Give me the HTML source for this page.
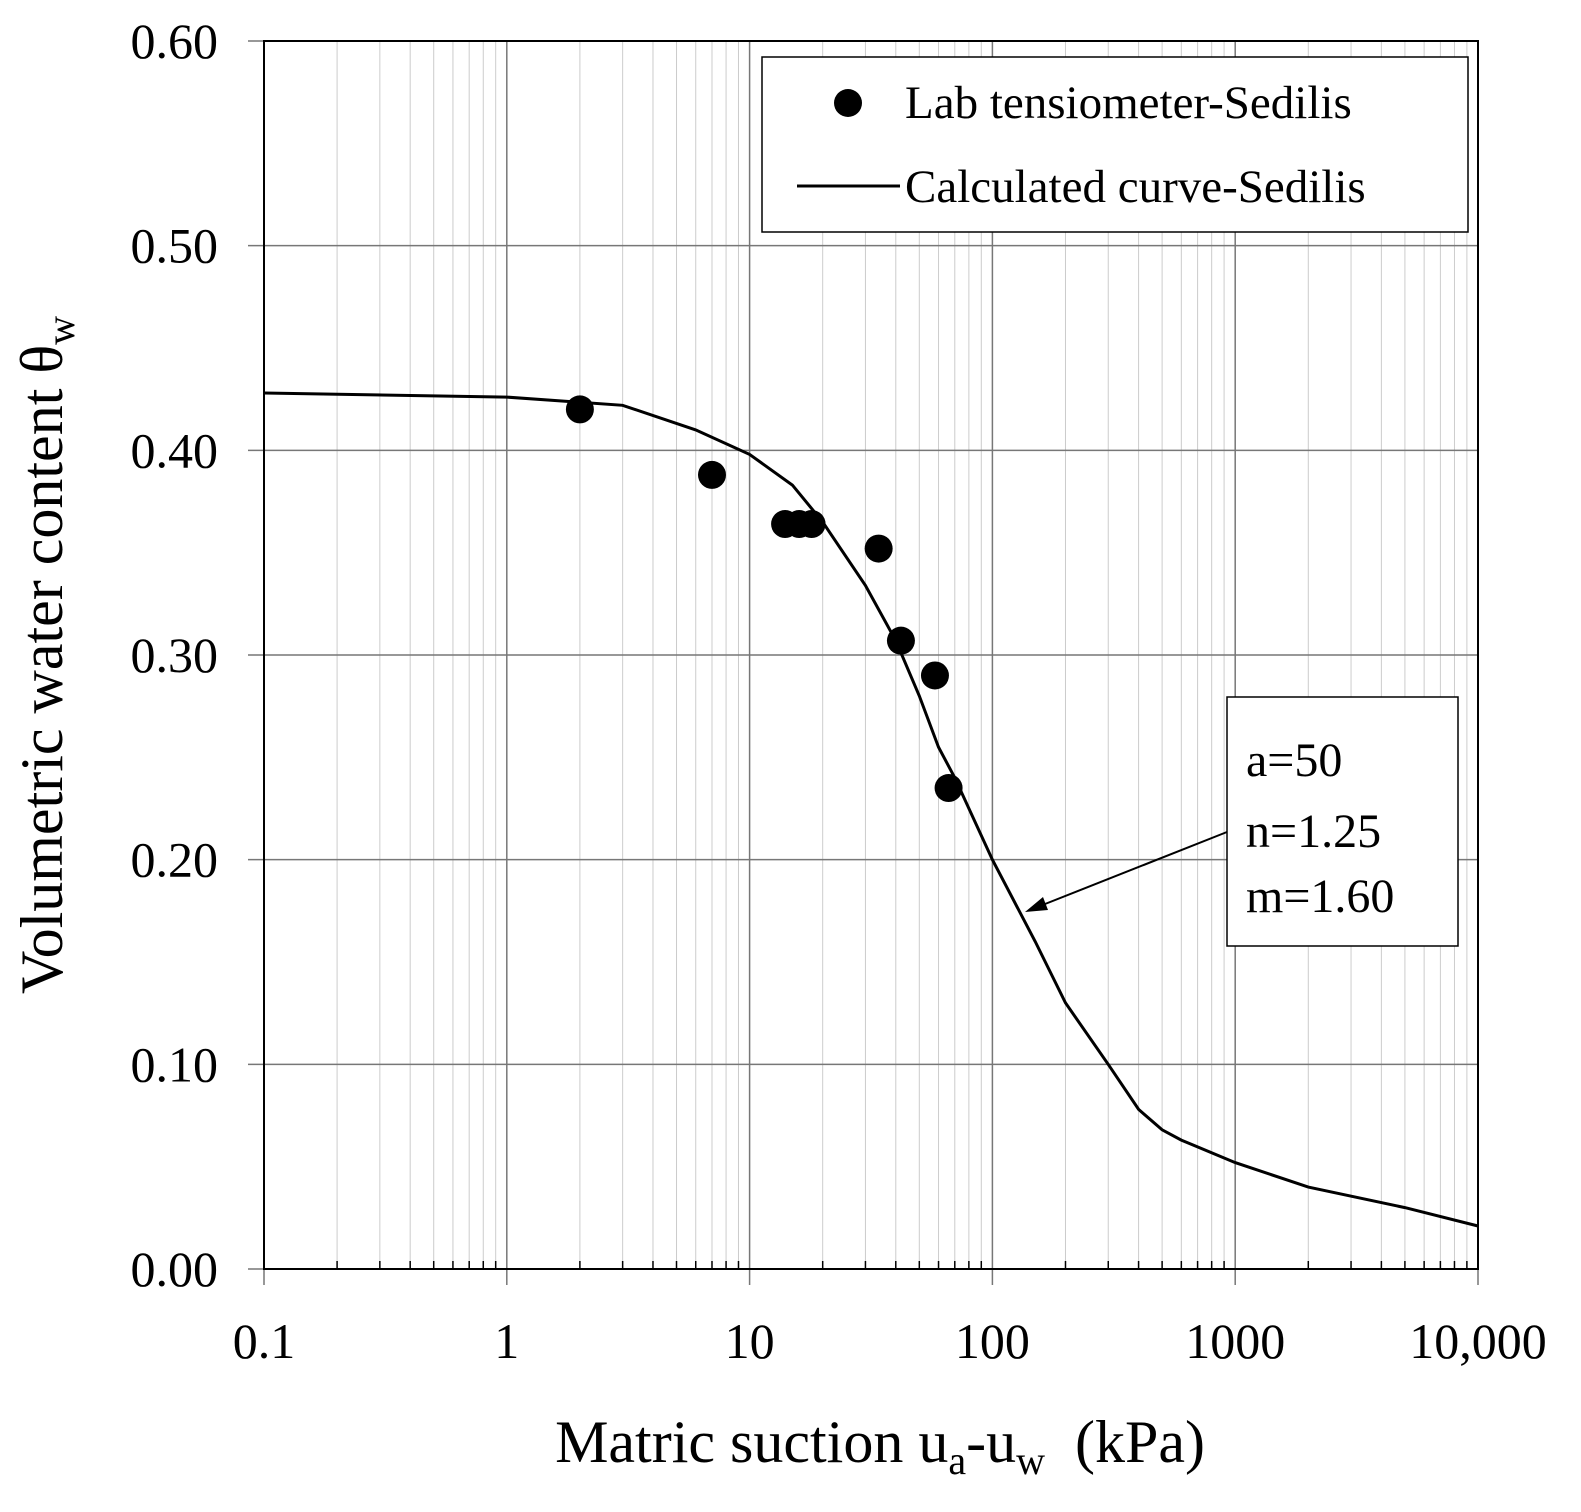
<!DOCTYPE html>
<html><head><meta charset="utf-8"><style>
html,body{margin:0;padding:0;background:#fff;}
svg text{font-family:"Liberation Serif",serif;fill:#000;}
</style></head><body>
<svg id="chart" width="1581" height="1507" viewBox="0 0 1581 1507" xmlns="http://www.w3.org/2000/svg">
<g id="grid"></g>
<rect x="264" y="41" width="1214" height="1228" fill="none" stroke="#000" stroke-width="2"/>
<g id="ticks"></g>
<path id="curve" fill="none" stroke="#000" stroke-width="3"/>
<g id="points"></g>
<text x="880" y="1462" font-size="60" text-anchor="middle">Matric suction u<tspan font-size="40" dy="12">a</tspan><tspan dy="-12">-u</tspan><tspan font-size="40" dy="12">w</tspan><tspan dy="-12" xml:space="preserve">  (kPa)</tspan></text>
<text transform="translate(62,655) rotate(-90)" font-size="60" text-anchor="middle">Volumetric water content θ<tspan font-size="40" dy="12">w</tspan></text>
<g>
<rect x="762" y="57" width="706" height="175" fill="#fff" stroke="#000" stroke-width="1.5"/>
<circle cx="848" cy="103" r="14" fill="#000"/>
<text x="905" y="118" font-size="47">Lab tensiometer-Sedilis</text>
<line x1="797" y1="186" x2="900" y2="186" stroke="#000" stroke-width="3"/>
<text x="905" y="202" font-size="47">Calculated curve-Sedilis</text>
</g>
<g>
<rect x="1227" y="697" width="231" height="249" fill="#fff" stroke="#000" stroke-width="1.5"/>
<text x="1246" y="776" font-size="48">a=50</text>
<text x="1246" y="847" font-size="48">n=1.25</text>
<text x="1246" y="912" font-size="48">m=1.60</text>
<line x1="1227" y1="832" x2="1040" y2="906" stroke="#000" stroke-width="2"/>
<polygon points="1025,912 1043,897 1048,910" fill="#000"/>
</g>
</svg>
<script>
const xTicks=[0.1,1,10,100,1000,10000];
const xTickLabels=["0.1","1","10","100","1000","10,000"];
const yTicks=[0,0.1,0.2,0.3,0.4,0.5,0.6];
const yTickLabels=["0.00","0.10","0.20","0.30","0.40","0.50","0.60"];
const labSuction=[2,7,14,16,18,34,42,58,66];
const labTheta=[0.420,0.388,0.364,0.364,0.364,0.352,0.307,0.290,0.235];
const curveSuction=[0.1,1,3,6,10,15,20,30,40,50,60,70,100,150,200,300,400,500,600,1000,2000,5000,10000];
const curveTheta=[0.428,0.426,0.422,0.410,0.398,0.383,0.365,0.334,0.307,0.280,0.255,0.240,0.200,0.160,0.130,0.100,0.078,0.068,0.063,0.052,0.040,0.030,0.021];
const NS="http://www.w3.org/2000/svg";
const X=v=>264+(Math.log10(v)+1)*242.8;
const Y=v=>1269-v/0.6*1228;
function mk(t,a,p){const e=document.createElementNS(NS,t);for(const k in a)e.setAttribute(k,a[k]);p.appendChild(e);return e;}
const grid=document.getElementById('grid'),ticks=document.getElementById('ticks');
for(let d=-1;d<4;d++)for(let k=2;k<10;k++){const x=X(k*Math.pow(10,d));
const l=mk('line',{x1:x,x2:x,y1:41,y2:1269,stroke:'#ccc','stroke-width':1},grid);


const t=mk('line',{x1:x,x2:x,y1:1261,y2:1269,stroke:'#000','stroke-width':1.5},ticks);

}
xTicks.forEach((v,i)=>{const x=X(v);
const l=mk('line',{x1:x,x2:x,y1:41,y2:1285,stroke:'#777','stroke-width':1.5},grid);


const t=mk('text',{x:x,y:1358,'font-size':50,'text-anchor':'middle'},ticks);t.textContent=xTickLabels[i];

});
yTicks.forEach((v,i)=>{const y=Y(v);
const l=mk('line',{x1:248,x2:1478,y1:y,y2:y,stroke:'#777','stroke-width':1.5},grid);


const t=mk('text',{x:218,y:y+17,'font-size':50,'text-anchor':'end'},ticks);t.textContent=yTickLabels[i];

});
let d='';curveSuction.forEach((s,i)=>{d+=(i?'L':'M')+X(s).toFixed(1)+','+Y(curveTheta[i]).toFixed(1);});
document.getElementById('curve').setAttribute('d',d);
const pts=document.getElementById('points');
labSuction.forEach((s,i)=>{const c=mk('circle',{cx:X(s),cy:Y(labTheta[i]),r:14,fill:'#000'},pts);

});
</script>
</body></html>
